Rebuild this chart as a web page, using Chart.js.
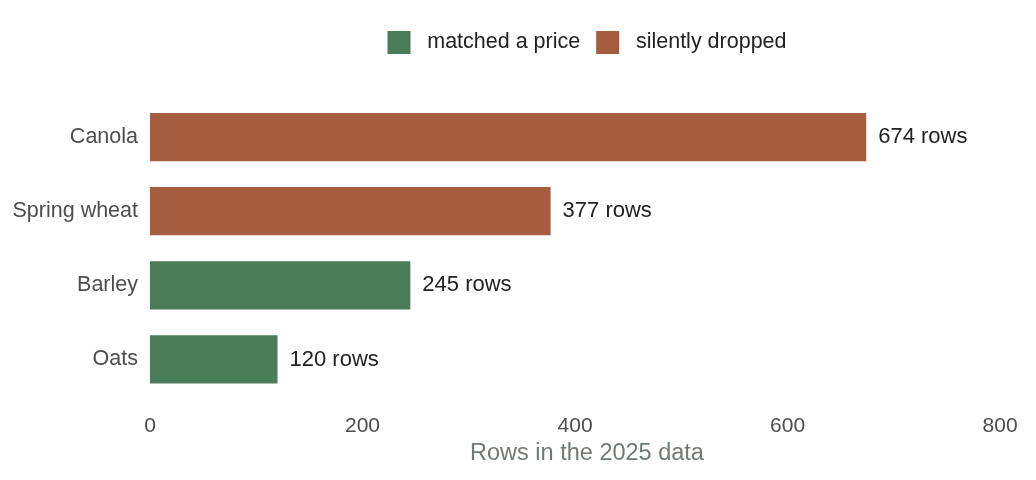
<!DOCTYPE html>
<html>
<head>
<meta charset="utf-8">
<script src="https://cdn.jsdelivr.net/npm/chart.js@4"></script>
<style>
  html, body { margin: 0; padding: 0; background: #fff; }
  #wrap { width: 1036px; height: 480px; }
</style>
</head>
<body>
<div id="wrap"><canvas id="rowsChart" width="1036" height="480"></canvas></div>
<script>
// crop rows in the 2025 data
const crops = ['Canola', 'Spring wheat', 'Barley', 'Oats'];
const matchedRows = [null, null, 245, 120];
const droppedRows = [674, 377, null, null];
const xTicks = [0, 200, 400, 600, 800];

const FONT = "'Liberation Sans', Arial, sans-serif";

// writes "N rows" to the right of each bar
const rowLabels = {
  id: 'rowLabels',
  afterDatasetsDraw(chart) {
    const ctx = chart.ctx;
    ctx.save();
    ctx.font = '22px ' + FONT;
    ctx.fillStyle = '#222';
    ctx.textAlign = 'left';
    ctx.textBaseline = 'middle';
    chart.data.datasets.forEach((ds, i) => {
      chart.getDatasetMeta(i).data.forEach((bar, j) => {
        if (ds.data[j] == null) return;
        ctx.fillText(ds.data[j] + ' rows', bar.x + 12, bar.y);
      });
    });
    ctx.restore();
  }
};

// extra room under the legend
const legendGap = {
  id: 'legendGap',
  beforeInit(chart) {
    const fit = chart.legend.fit;
    chart.legend.fit = function () {
      fit.bind(chart.legend)();
      this.height += 36;
    };
  }
};

const config = {
  type: 'bar',
  data: {
    labels: crops,
    datasets: [
      { label: ' matched a price', data: matchedRows, backgroundColor: '#4a7c59' },
      { label: ' silently dropped', data: droppedRows, backgroundColor: '#a65c3e' }
    ]
  },
  options: {
    indexAxis: 'y',
    responsive: false,
    animation: false,
    categoryPercentage: 0.65,
    barPercentage: 1,
    layout: { padding: { left: 0, right: 12, top: 15, bottom: 12 } },
    plugins: {
      legend: {
        position: 'top',
        fullSize: false,
        labels: {
          font: { family: FONT, size: 21.5 },
          color: '#222',
          boxWidth: 23,
          boxHeight: 23,
          padding: 16
        }
      },
      tooltip: { enabled: false }
    },
    scales: {
      x: {
        stacked: true,
        min: 0,
        max: 822.5, // a little room past the last tick
        afterBuildTicks(axis) { axis.ticks = xTicks.map(v => ({ value: v })); },
        afterFit(axis) { axis.height = 71.5; },
        grid: { display: false, drawTicks: false },
        border: { display: false },
        ticks: { font: { family: FONT, size: 21 }, color: '#4d4d4d', padding: 17 },
        title: {
          display: true,
          text: 'Rows in the 2025 data',
          font: { family: FONT, size: 23.5 },
          color: '#6f7b72',
          padding: { top: 1, bottom: 0 }
        }
      },
      y: {
        stacked: true,
        afterFit(axis) { axis.width = 150; },
        grid: { display: false, drawTicks: false },
        border: { display: false },
        ticks: { font: { family: FONT, size: 21.5 }, color: '#4d4d4d', padding: 12 }
      }
    }
  },
  plugins: [rowLabels, legendGap]
};

new Chart(document.getElementById('rowsChart'), config);
</script>
</body>
</html>
